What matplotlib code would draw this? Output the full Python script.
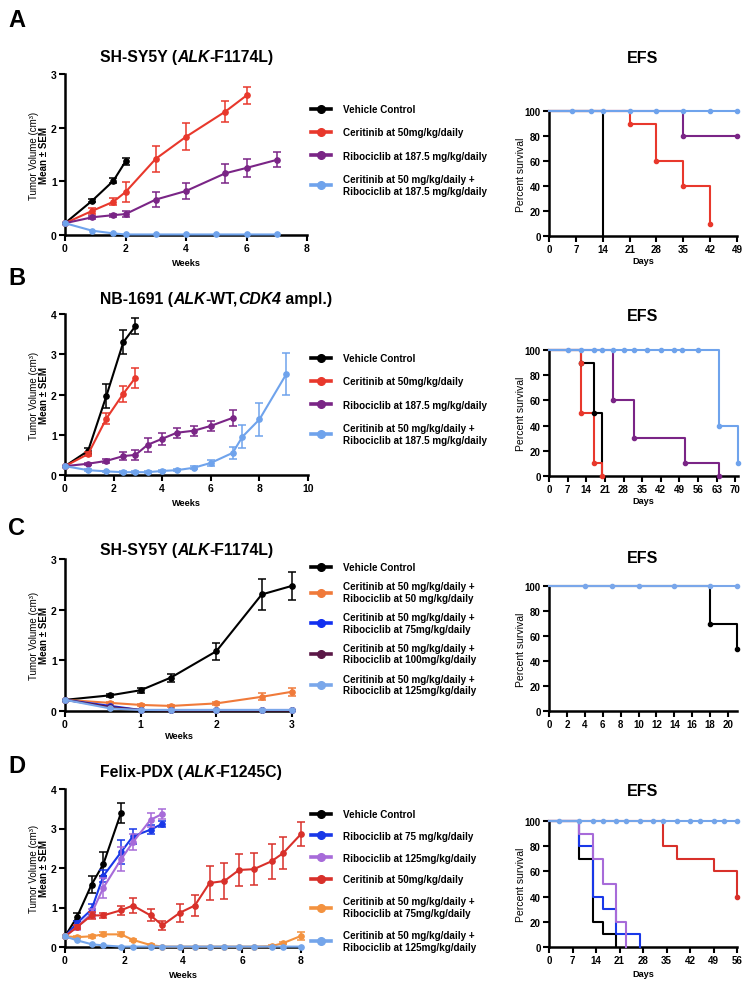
import matplotlib
matplotlib.use("Agg")
import matplotlib.pyplot as plt
import numpy as np

plt.rcParams['font.family'] = ['Liberation Sans', 'DejaVu Sans']
plt.rcParams['font.weight'] = 'bold'
plt.rcParams['axes.linewidth'] = 1.8

W, H = 751, 987
fig = plt.figure(figsize=(W / 100, H / 100), dpi=100)

def rect(x0, y0, x1, y1):
    return [x0 / W, 1 - y1 / H, (x1 - x0) / W, (y1 - y0) / H]

def fx(x):
    return x / W

def fy(y):
    return 1 - y / H

# ---------------- DATA ----------------
BLACK = '#000000'
# Panel A
A_legend = ['Vehicle Control', 'Ceritinib at 50mg/kg/daily', 'Ribociclib at 187.5 mg/kg/daily',
            'Ceritinib at 50 mg/kg/daily +\nRibociclib at 187.5 mg/kg/daily']
A_colors = [BLACK, '#E8382C', '#7A2586', '#6FA3EC']
A_weeks = [[0, 0.9, 1.6, 2.0],
           [0, 0.9, 1.6, 2.0, 3.0, 4.0, 5.3, 6.0],
           [0, 0.9, 1.6, 2.0, 3.0, 4.0, 5.3, 6.0, 7.0],
           [0, 0.9, 1.6, 2.0, 3.0, 4.0, 5.0, 6.0, 7.0]]
A_vol = [[0.22, 0.64, 1.01, 1.37],
         [0.22, 0.45, 0.62, 0.80, 1.42, 1.83, 2.30, 2.60],
         [0.22, 0.33, 0.37, 0.39, 0.66, 0.82, 1.15, 1.25, 1.40],
         [0.22, 0.08, 0.03, 0.01, 0.01, 0.01, 0.01, 0.01, 0.01]]
A_sem = [[0, 0.03, 0.05, 0.07],
         [0, 0.05, 0.07, 0.18, 0.24, 0.25, 0.19, 0.15],
         [0, 0.03, 0.03, 0.06, 0.14, 0.15, 0.18, 0.17, 0.14],
         [0, 0, 0, 0, 0, 0, 0, 0, 0]]
A_efs_t = [[0, 14], [0, 21, 28, 35, 42], [0, 35, 49], [0, 49]]
A_efs_s = [[100, 0], [100, 90, 60, 40, 10], [100, 80, 80], [100, 100]]
A_efs_mark_t = [[], [21, 28, 35, 42], [35, 49], [6, 11, 14, 21, 28, 35, 42, 49]]
A_efs_mark_s = [[], [90, 60, 40, 10], [80, 80], [100] * 8]

# Panel B
B_legend = ['Vehicle Control', 'Ceritinib at 50mg/kg/daily', 'Ribociclib at 187.5 mg/kg/daily',
            'Ceritinib at 50 mg/kg/daily +\nRibociclib at 187.5 mg/kg/daily']
B_colors = [BLACK, '#E8382C', '#7A2586', '#6FA3EC']
B_weeks = [[0, 0.95, 1.7, 2.4, 2.9],
           [0, 0.95, 1.7, 2.4, 2.9],
           [0, 0.95, 1.7, 2.4, 2.9, 3.4, 4.0, 4.6, 5.3, 6.0, 6.9],
           [0, 0.95, 1.7, 2.4, 2.9, 3.4, 4.0, 4.6, 5.3, 6.0, 6.9, 7.3, 8.0, 9.1]]
B_vol = [[0.22, 0.60, 1.96, 3.30, 3.70],
         [0.22, 0.52, 1.40, 2.02, 2.42],
         [0.22, 0.28, 0.35, 0.47, 0.50, 0.75, 0.90, 1.05, 1.10, 1.22, 1.42],
         [0.22, 0.12, 0.09, 0.07, 0.07, 0.07, 0.10, 0.12, 0.18, 0.30, 0.55, 0.95, 1.38, 2.50]]
B_sem = [[0, 0.08, 0.30, 0.30, 0.20],
         [0, 0.05, 0.13, 0.20, 0.25],
         [0, 0.03, 0.04, 0.10, 0.12, 0.18, 0.15, 0.13, 0.12, 0.13, 0.20],
         [0, 0.02, 0.02, 0.02, 0.02, 0.02, 0.03, 0.03, 0.04, 0.08, 0.15, 0.28, 0.40, 0.52]]
B_efs_t = [[0, 12, 17, 20], [0, 12, 12, 17, 20], [0, 24, 32, 51, 64], [0, 64, 71]]
B_efs_s = [[100, 90, 50, 0], [100, 90, 50, 10, 0], [100, 60, 30, 10, 0], [100, 40, 10]]
B_efs_mark_t = [[12, 17], [12, 12, 17, 20], [24, 32, 51, 64],
                [7, 12, 17, 20, 24, 28, 32, 37, 42, 47, 50, 56, 64, 71]]
B_efs_mark_s = [[90, 50], [90, 50, 10, 0], [60, 30, 10, 0],
                [100] * 12 + [40, 10]]

# Panel C
C_legend = ['Vehicle Control',
            'Ceritinib at 50 mg/kg/daily +\nRibociclib at 50 mg/kg/daily',
            'Ceritinib at 50 mg/kg/daily +\nRibociclib at 75mg/kg/daily',
            'Ceritinib at 50 mg/kg/daily +\nRibociclib at 100mg/kg/daily',
            'Ceritinib at 50 mg/kg/daily +\nRibociclib at 125mg/kg/daily']
C_colors = [BLACK, '#F07A3A', '#1230F0', '#5B1847', '#7AA7EA']
C_weeks = [0, 0.6, 1.0, 1.4, 2.0, 2.6, 3.0]
C_vol = [[0.22, 0.31, 0.41, 0.66, 1.18, 2.30, 2.47],
         [0.22, 0.16, 0.12, 0.10, 0.15, 0.28, 0.38],
         [0.22, 0.10, 0.02, 0.02, 0.02, 0.02, 0.02],
         [0.22, 0.08, 0.02, 0.01, 0.01, 0.01, 0.01],
         [0.22, 0.05, 0.02, 0.02, 0.02, 0.02, 0.02]]
C_sem = [[0, 0.03, 0.05, 0.08, 0.17, 0.31, 0.28],
         [0, 0.02, 0.02, 0.02, 0.03, 0.07, 0.08],
         [0] * 7, [0] * 7, [0] * 7]
C_efs_t = [[0, 18, 21], [0, 21]]
C_efs_s = [[100, 70, 50], [100, 100]]
C_efs_colors = [BLACK, '#7AA7EA']
C_efs_mark_t = [[18, 21], [4, 7, 10, 14, 18, 21]]
C_efs_mark_s = [[70, 50], [100] * 6]

# Panel D
D_legend = ['Vehicle Control', 'Ribociclib at 75 mg/kg/daily', 'Ribociclib at 125mg/kg/daily',
            'Ceritinib at 50mg/kg/daily',
            'Ceritinib at 50 mg/kg/daily +\nRibociclib at 75mg/kg/daily',
            'Ceritinib at 50 mg/kg/daily +\nRibociclib at 125mg/kg/daily']
D_colors = [BLACK, '#1938E8', '#A76BD9', '#D8302A', '#F3923F', '#74A5EA']
D_weeks_all = [0, 0.4, 0.9, 1.3, 1.9, 2.3, 2.9, 3.3, 3.9, 4.4, 4.9, 5.4, 5.9, 6.4, 7.0, 7.4, 8.0]
D_npts = [5, 8, 8, 17, 17, 17]
D_vol = [[0.27, 0.75, 1.58, 2.10, 3.40],
         [0.27, 0.60, 0.95, 1.80, 2.40, 2.80, 2.97, 3.12],
         [0.27, 0.50, 0.85, 1.50, 2.22, 2.65, 3.22, 3.37],
         [0.27, 0.50, 0.80, 0.80, 0.93, 1.05, 0.80, 0.55, 0.87, 1.05, 1.62, 1.67, 1.95, 1.97, 2.17, 2.38, 2.86],
         [0.27, 0.25, 0.27, 0.32, 0.32, 0.18, 0.05, 0.01, 0.01, 0.01, 0.01, 0.01, 0.01, 0.01, 0.02, 0.10, 0.28],
         [0.27, 0.17, 0.07, 0.04, 0.01, 0.01, 0.01, 0.01, 0.01, 0.01, 0.01, 0.01, 0.01, 0.01, 0.01, 0.01, 0.01]]
D_sem = [[0, 0.10, 0.22, 0.30, 0.25],
         [0, 0.07, 0.15, 0.15, 0.30, 0.20, 0.12, 0.08],
         [0, 0.06, 0.12, 0.25, 0.30, 0.20, 0.18, 0.13],
         [0, 0.05, 0.08, 0.07, 0.12, 0.18, 0.15, 0.12, 0.23, 0.27, 0.43, 0.45, 0.41, 0.40, 0.45, 0.40, 0.30],
         [0, 0.02, 0.03, 0.05, 0.05, 0.03, 0.02, 0, 0, 0, 0, 0, 0, 0, 0.02, 0.03, 0.10],
         [0] * 17]
D_efs_colors = [BLACK, '#1938E8', '#A76BD9', '#D8302A', '#74A5EA']
D_efs_t = [[0, 9, 13, 16, 20], [0, 9, 13, 16, 20, 27], [0, 9, 13, 16, 20, 23],
           [0, 34, 38, 49, 56], [0, 56]]
D_efs_s = [[100, 70, 20, 10, 0], [100, 80, 40, 30, 10, 0], [100, 90, 70, 50, 20, 0],
           [100, 80, 70, 60, 40], [100, 100]]
D_efs_mark_t = [[], [], [], [56], [3, 9, 13, 16, 20, 23, 27, 31, 34, 38, 42, 45, 49, 52, 56]]
D_efs_mark_s = [[], [], [], [40], [100] * 15]

# ---------------- helpers ----------------
def style_ax(ax, xt, yt, xl, yl, size=7.5):
    ax.spines['top'].set_visible(False)
    ax.spines['right'].set_visible(False)
    ax.set_xlim(*xl)
    ax.set_ylim(*yl)
    ax.set_xticks(xt)
    ax.set_yticks(yt)
    ax.tick_params(direction='out', length=4, width=1.5, labelsize=size, pad=2)
    for lab in ax.get_xticklabels() + ax.get_yticklabels():
        lab.set_fontweight('bold')

def tumor(ax, w, v, e, c):
    w = np.asarray(w); v = np.asarray(v); e = np.asarray(e)
    ax.plot(w, v, color=c, lw=1.5, marker='o', ms=3.8, clip_on=False, zorder=3)
    m = e > 0
    if m.any():
        ax.errorbar(w[m], v[m], yerr=e[m], fmt='none', ecolor=c, elinewidth=1.1,
                    capsize=2.6, capthick=1.1, clip_on=False, zorder=3)

def efs(ax, t, s, mt, ms_, c):
    ax.step(t, s, where='post', color=c, lw=1.5, clip_on=False, zorder=3)
    if len(mt):
        ax.plot(mt, ms_, 'o', color=c, ms=3.0, clip_on=False, zorder=4)

def title(ax, x, y, pieces, size=11.3):
    t = fig.text(fx(x), fy(y), pieces[0][0], fontsize=size, fontweight='bold',
                 style=pieces[0][1], va='baseline', ha='left')
    for txt, st in pieces[1:]:
        t = ax.annotate(txt, xy=(1, 0), xycoords=t, xytext=(0, 0), textcoords='offset points',
                        fontsize=size, fontweight='bold', style=st, ha='left', va='bottom',
                        annotation_clip=False)

def ylab_tumor(y0, y1):
    yc = fy((y0 + y1) / 2)
    fig.text(fx(34), yc, 'Tumor Volume (cm\u00b3)', rotation=90, fontsize=7,
             fontweight='normal', ha='center', va='center')
    fig.text(fx(44), yc, 'Mean \u00b1 SEM', rotation=90, fontsize=7,
             fontweight='bold', ha='center', va='center')

def ylab_efs(y0, y1):
    fig.text(fx(521), fy((y0 + y1) / 2), 'Percent survival', rotation=90, fontsize=7.5,
             fontweight='normal', ha='center', va='center')

def legend(ax, colors, labels, ytop, spacing):
    handles = [plt.Line2D([], [], color=c, lw=2.6, marker='o', ms=5.5) for c in colors]
    lg = ax.legend(handles, labels, loc='upper left', bbox_to_anchor=(fx(311), fy(ytop)),
                   bbox_transform=fig.transFigure, frameon=False, borderpad=0,
                   borderaxespad=0, handlelength=2.0, handletextpad=1.2,
                   labelspacing=spacing, prop={'size': 7.1, 'weight': 'bold'})
    for t in lg.get_texts():
        t.set_linespacing(1.22)
    return lg

def letter(x, y, s):
    fig.text(fx(x), fy(y), s, fontsize=17, fontweight='bold', va='baseline', ha='left')

n, i = 'normal', 'italic'

# ---------------- Panel A ----------------
axA = fig.add_axes(rect(65, 75, 307, 236))
for w, v, e, c in zip(A_weeks, A_vol, A_sem, A_colors):
    tumor(axA, w, v, e, c)
style_ax(axA, [0, 2, 4, 6, 8], [0, 1, 2, 3], (0, 8), (0, 3))
letter(8, 27, 'A')
title(axA, 100, 62, [('SH-SY5Y (', n), ('ALK', i), ('-F1174L)', n)])
ylab_tumor(75, 236)
fig.text(fx(186), fy(266), 'Weeks', fontsize=6.6, ha='center', va='baseline')
legend(axA, A_colors, A_legend, 105, 1.35)

axAe = fig.add_axes(rect(549, 112, 737, 237))
for t, s, mt, ms_, c in zip(A_efs_t, A_efs_s, A_efs_mark_t, A_efs_mark_s, A_colors):
    efs(axAe, t, s, mt, ms_, c)
style_ax(axAe, list(range(0, 50, 7)), list(range(0, 101, 20)), (0, 49), (0, 100), size=7)
ylab_efs(112, 237)
fig.text(fx(643), fy(63), 'EFS', fontsize=11.5, ha='center', va='baseline')
fig.text(fx(643), fy(264), 'Days', fontsize=6.6, ha='center', va='baseline')

# ---------------- Panel B ----------------
axB = fig.add_axes(rect(65, 315, 308, 476))
for w, v, e, c in zip(B_weeks, B_vol, B_sem, B_colors):
    tumor(axB, w, v, e, c)
style_ax(axB, [0, 2, 4, 6, 8, 10], [0, 1, 2, 3, 4], (0, 10), (0, 4))
letter(8, 285, 'B')
title(axB, 100, 304, [('NB-1691 (', n), ('ALK', i), ('-WT,', n), ('CDK4', i), (' ampl.)', n)])
ylab_tumor(315, 476)
fig.text(fx(186), fy(506), 'Weeks', fontsize=6.6, ha='center', va='baseline')
legend(axB, B_colors, B_legend, 354, 1.35)

axBe = fig.add_axes(rect(549, 351, 738, 477))
for t, s, mt, ms_, c in zip(B_efs_t, B_efs_s, B_efs_mark_t, B_efs_mark_s, B_colors):
    efs(axBe, t, s, mt, ms_, c)
style_ax(axBe, list(range(0, 71, 7)), list(range(0, 101, 20)), (0, 71), (0, 100), size=7)
ylab_efs(351, 477)
fig.text(fx(643), fy(321), 'EFS', fontsize=11.5, ha='center', va='baseline')
fig.text(fx(643), fy(504), 'Days', fontsize=6.6, ha='center', va='baseline')

# ---------------- Panel C ----------------
axC = fig.add_axes(rect(65, 560, 292, 712))
for v, e, c in zip(C_vol, C_sem, C_colors):
    tumor(axC, C_weeks, v, e, c)
style_ax(axC, [0, 1, 2, 3], [0, 1, 2, 3], (0, 3), (0, 3))
letter(8, 535, 'C')
title(axC, 100, 555, [('SH-SY5Y (', n), ('ALK', i), ('-F1174L)', n)])
ylab_tumor(560, 712)
fig.text(fx(179), fy(739), 'Weeks', fontsize=6.6, ha='center', va='baseline')
legend(axC, C_colors, C_legend, 563, 0.92)

axCe = fig.add_axes(rect(549, 587, 737, 712))
for t, s, mt, ms_, c in zip(C_efs_t, C_efs_s, C_efs_mark_t, C_efs_mark_s, C_efs_colors):
    efs(axCe, t, s, mt, ms_, c)
style_ax(axCe, list(range(0, 21, 2)), list(range(0, 101, 20)), (0, 21), (0, 100), size=7)
ylab_efs(587, 712)
fig.text(fx(643), fy(563), 'EFS', fontsize=11.5, ha='center', va='baseline')

# ---------------- Panel D ----------------
axD = fig.add_axes(rect(65, 790, 301, 948))
for k, (v, e, c) in enumerate(zip(D_vol, D_sem, D_colors)):
    tumor(axD, D_weeks_all[:D_npts[k]], v, e, c)
style_ax(axD, [0, 2, 4, 6, 8], [0, 1, 2, 3, 4], (0, 8), (0, 4))
letter(8, 773, 'D')
title(axD, 100, 777, [('Felix-PDX (', n), ('ALK', i), ('-F1245C)', n)])
ylab_tumor(790, 948)
fig.text(fx(183), fy(978), 'Weeks', fontsize=6.6, ha='center', va='baseline')
legend(axD, D_colors, D_legend, 810, 1.2)

axDe = fig.add_axes(rect(549, 822, 737, 948))
for t, s, mt, ms_, c in zip(D_efs_t, D_efs_s, D_efs_mark_t, D_efs_mark_s, D_efs_colors):
    efs(axDe, t, s, mt, ms_, c)
style_ax(axDe, list(range(0, 57, 7)), list(range(0, 101, 20)), (0, 56), (0, 100), size=7)
ylab_efs(822, 948)
fig.text(fx(643), fy(796), 'EFS', fontsize=11.5, ha='center', va='baseline')
fig.text(fx(643), fy(977), 'Days', fontsize=6.6, ha='center', va='baseline')

fig.savefig('out.png', dpi=100)
